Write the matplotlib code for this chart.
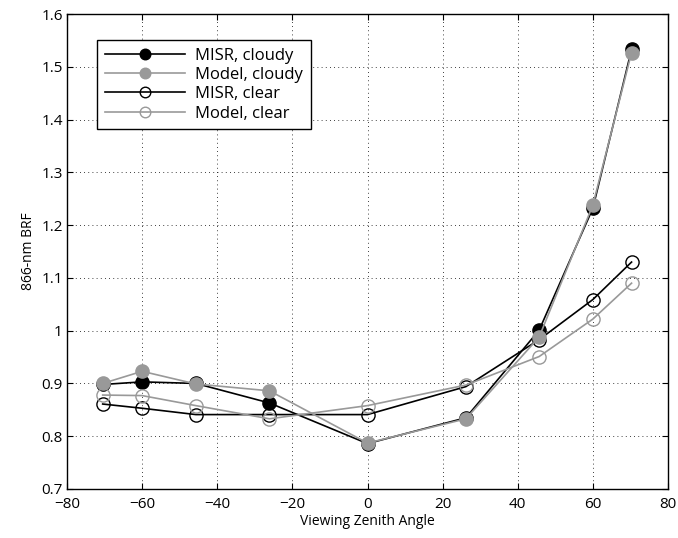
import numpy as np
import matplotlib.pyplot as plt

plt.rcParams['font.family'] = ['Open Sans', 'DejaVu Sans']
plt.rcParams['font.size'] = 10

# viewing zenith angles of the camera views
vza = [-70.5, -60, -45.7, -26.1, 0, 26.2, 45.7, 60, 70.3]

misr_cloudy = [0.898, 0.903, 0.900, 0.863, 0.786, 0.835, 1.001, 1.232, 1.533]
model_cloudy = [0.900, 0.923, 0.899, 0.886, 0.787, 0.833, 0.988, 1.238, 1.527]
misr_clear = [0.861, 0.853, 0.841, 0.841, 0.841, 0.894, 0.983, 1.059, 1.130]
model_clear = [0.878, 0.877, 0.858, 0.833, 0.858, 0.897, 0.951, 1.022, 1.090]

gray = '#999999'

fig = plt.figure(figsize=(6.78, 5.38), dpi=100)
ax = fig.add_axes([67/678, 49/538, 601/678, 475/538])

ax.plot(vza, misr_cloudy, '-o', color='black', mfc='black', mec='black',
        ms=9.5, lw=1.2, label='MISR, cloudy', zorder=3)
ax.plot(vza, model_cloudy, '-o', color=gray, mfc=gray, mec=gray,
        ms=9.5, lw=1.2, label='Model, cloudy', zorder=4)
ax.plot(vza, misr_clear, '-o', color='black', mfc='none', mec='black',
        ms=9.5, mew=1.0, lw=1.2, label='MISR, clear', zorder=3)
ax.plot(vza, model_clear, '-o', color=gray, mfc='none', mec=gray,
        ms=9.5, mew=1.0, lw=1.2, label='Model, clear', zorder=3)

ax.set_xlim(-80, 80)
ax.set_ylim(0.7, 1.6)
ax.set_xticks(np.arange(-80, 81, 20))
ax.set_yticks(np.arange(0.7, 1.61, 0.1))
ax.set_yticklabels(['0.7', '0.8', '0.9', '1', '1.1', '1.2', '1.3', '1.4', '1.5', '1.6'])
ax.grid(True, linestyle=(0, (1, 4)), color='black', linewidth=0.6)
ax.tick_params(direction='in', top=True, right=True, length=4, labelsize=11, pad=3)
ax.tick_params(axis='x', pad=6)
for s in ax.spines.values():
    s.set_linewidth(1.0)

ax.set_xlabel('Viewing Zenith Angle', fontsize=10, labelpad=1)
ax.set_ylabel('866-nm BRF', fontsize=10)

leg = ax.legend(loc='upper left', bbox_to_anchor=(0.05, 0.945), borderaxespad=0,
                handlelength=4.85, handletextpad=0.6, markerscale=0.8,
                labelspacing=0.2, borderpad=0.45, fancybox=False,
                framealpha=1, fontsize=12)
leg.get_frame().set_edgecolor('black')
leg.get_frame().set_linewidth(1.0)

fig.savefig('out.png', dpi=100)
